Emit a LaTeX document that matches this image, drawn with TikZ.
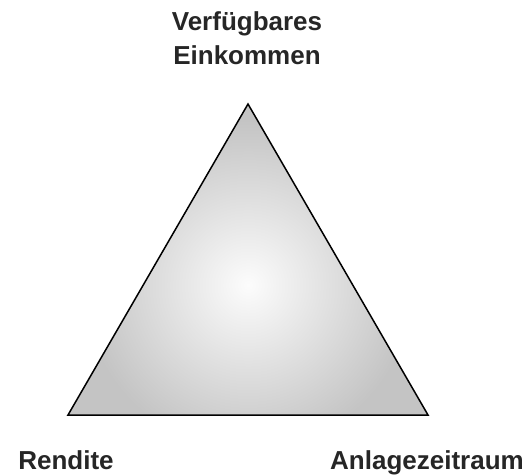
\documentclass[tikz,border=0pt]{standalone}
\usepackage{fontspec}
\setmainfont{Liberation Sans}
\usepackage{tikz}
\usetikzlibrary{positioning}
\definecolor{tgray}{RGB}{196,196,196}
\definecolor{tlight}{RGB}{252,252,252}
\tikzset{
  corner label/.style={font=\fontsize{26}{30}\selectfont\bfseries, text=black!85, inner sep=0pt, anchor=base},
}

\begin{document}
\begin{tikzpicture}[x=1pt, y=-1pt]
  \useasboundingbox (0,0) rectangle (526,475);
  % Triangle corners
  \coordinate (apex) at (248,104);
  \coordinate (left) at (68,415);
  \coordinate (right) at (428,415);
  % Shaded body
  \begin{scope}
    \clip (apex) -- (left) -- (right) -- cycle;
    \fill[tgray] (0,0) rectangle (526,475);
    \shade[inner color=tlight, outer color=tgray] (248,285) circle (165);
  \end{scope}
  \draw[line width=1.5pt, line join=miter] (apex) -- (left) -- (right) -- cycle;
  % Labels
  \node[corner label] (verfuegbar) at (247,30) {Verfügbares};
  \node[corner label] (einkommen) at (247,64) {Einkommen};
  \node[corner label] (rendite) at (66,469) {Rendite};
  \node[corner label] (zeitraum) at (427,469) {Anlagezeitraum};
\end{tikzpicture}
\end{document}
